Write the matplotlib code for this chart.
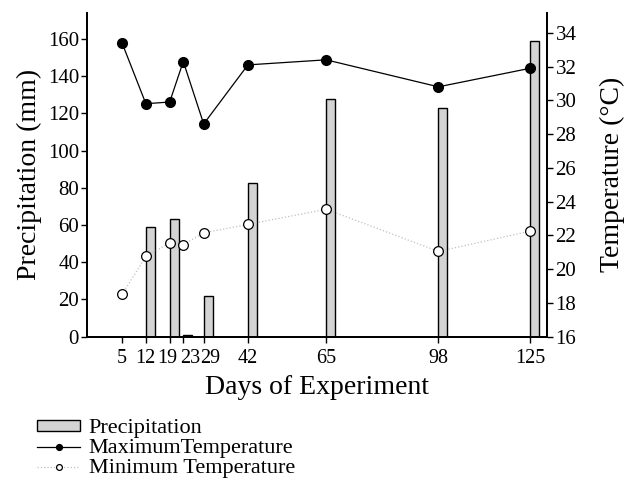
import matplotlib
matplotlib.use("Agg")
import matplotlib.pyplot as plt
import matplotlib.transforms as mtransforms

plt.rcParams['font.family'] = ['Liberation Serif', 'DejaVu Serif']

days = [5, 12, 19, 23, 29, 42, 65, 98, 125]
precip = [0, 59, 63.5, 1.1, 21.7, 82.6, 127.8, 122.8, 159.1]
max_temp = [33.4, 29.8, 29.9, 32.3, 28.6, 32.1, 32.4, 30.8, 31.9]
min_temp = [18.5, 20.75, 21.55, 21.45, 22.15, 22.65, 23.55, 21.05, 22.25]

fig = plt.figure(figsize=(6.24, 4.83), dpi=100)
ax = fig.add_axes([0.14, 0.303, 0.737, 0.671])
ax2 = ax.twinx()

bars = ax.bar(days, precip, width=2.6, align='edge', color='#d3d3d3',
              edgecolor='black', linewidth=1.0, label='Precipitation')
l_max, = ax2.plot(days, max_temp, color='black', linewidth=0.9, marker='o',
                  markersize=7, markerfacecolor='black', markeredgecolor='black',
                  label='MaximumTemperature')
l_min, = ax2.plot(days, min_temp, color='#c0c0c0', linewidth=0.9, linestyle=':',
                  marker='o', markersize=7, markerfacecolor='white',
                  markeredgecolor='black', markeredgewidth=0.9,
                  label='Minimum Temperature')

ax.set_xlim(-5.2, 130)
ax.set_ylim(0, 174.2)
ax2.set_ylim(16, 35.2)
ax.set_xticks(days)
ax.set_xticklabels([str(d) for d in days])
ax.set_yticks(range(0, 161, 20))
ax2.set_yticks(range(16, 35, 2))

for a in (ax, ax2):
    a.spines['top'].set_visible(False)
    for s in a.spines.values():
        s.set_linewidth(1.3)
    a.tick_params(direction='out', length=4, width=1.0, labelsize=15, pad=2)
ax.tick_params(axis='x', labelsize=14.5, pad=5)

# crowded labels are nudged apart, as in the original
shifts = {12: -0.5, 19: -2.5, 23: 6.5, 29: 6.0}
for lab, d in zip(ax.get_xticklabels(), days):
    if d in shifts:
        off = mtransforms.ScaledTranslation(shifts[d] / 100, 0, fig.dpi_scale_trans)
        lab.set_transform(lab.get_transform() + off)

ax.set_xlabel('Days of Experiment', fontsize=20, labelpad=5)
ax.set_ylabel('Precipitation (mm)', fontsize=20, labelpad=4)
ax2.set_ylabel('Temperature (°C)', fontsize=20, labelpad=17)

fig.legend(handles=[bars, l_max, l_min], loc='upper left',
           bbox_to_anchor=(0.06, 0.132), frameon=False, fontsize=16,
           handlelength=1.9, handleheight=0.4, handletextpad=0.4,
           labelspacing=0.05, borderpad=0, borderaxespad=0, markerscale=0.6)

fig.savefig('out.png', dpi=100)
